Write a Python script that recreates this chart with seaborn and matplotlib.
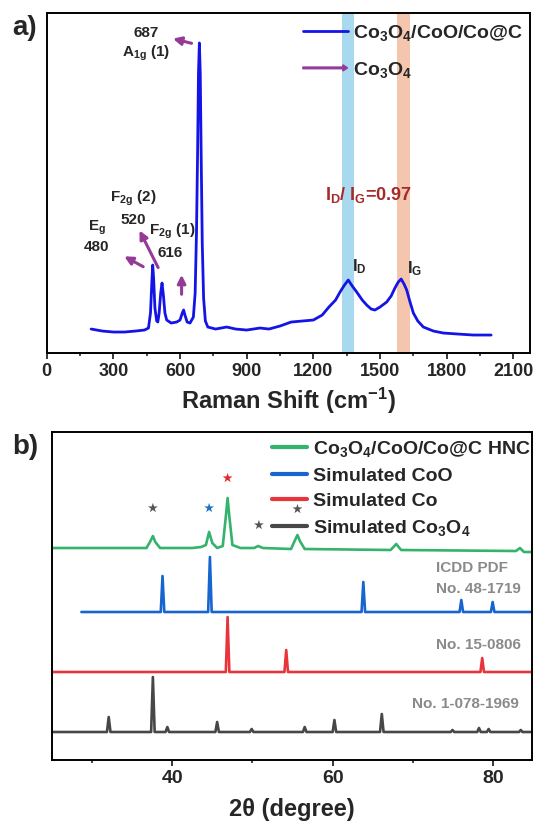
import numpy as np
import pandas as pd
import matplotlib
matplotlib.use('Agg')
import matplotlib.pyplot as plt
import matplotlib.patches as mpatches
from matplotlib.lines import Line2D
from matplotlib.legend_handler import HandlerPatch
from matplotlib.ticker import MultipleLocator
import seaborn as sns

# ---------------- data ----------------
# a) Raman spectrum, intensity in arbitrary units
raman_shift = [200, 250, 300, 350, 400, 440, 458, 467, 473, 477, 481, 487, 495, 500,
               506, 513, 519, 525, 532, 540, 560, 585, 600, 610, 616, 622, 632, 645,
               660, 668, 674, 679, 683, 687, 691, 695, 700, 706, 714, 725, 760, 810,
               850, 900, 960, 1000, 1050, 1100, 1150, 1200, 1240, 1270, 1300, 1320,
               1340, 1357, 1375, 1395, 1420, 1440, 1460, 1477, 1500, 1530, 1550, 1567,
               1582, 1595, 1608, 1620, 1635, 1650, 1670, 1695, 1740, 1785, 1850, 1920,
               1980, 2000]
raman_int = [24, 22, 21, 21, 22, 23, 25, 40, 70, 88, 75, 45, 32, 31,
             40, 60, 70, 58, 40, 33, 30, 31, 33, 40, 43, 38, 31, 30,
             36, 60, 120, 200, 280, 310, 280, 200, 110, 55, 32, 26, 24, 26,
             24, 23, 25, 24, 27, 31, 32, 33, 38, 46, 53, 61,
             68, 73, 67, 61, 53, 48, 44, 43, 46, 51, 57, 65,
             71, 74, 69, 63, 51, 40, 32, 26, 22, 20, 19, 18,
             18, 18]
d_band = (1330, 1383)
g_band = (1575, 1635)

# b) XRD patterns
hnc_theta = [25, 36.8, 37.3, 37.6, 37.9, 38.5, 42.5, 43.6, 43.9, 44.2, 44.6, 45.0,
             45.6, 46.3, 46.7, 46.9, 47.1, 47.5, 48.5, 50.2, 50.7, 51.3, 54.8, 55.3,
             55.6, 55.9, 56.5, 67.2, 67.9, 68.5, 82.8, 83.3, 83.8, 85]
hnc_int = [212, 212, 219, 224, 218, 212, 212, 213, 214, 215, 228, 217,
           212, 214, 245, 262, 245, 215, 212, 212, 214, 212, 211, 220,
           225, 219, 211, 210, 216, 210, 209, 212, 208, 208]

coo_start, coo_base = 28.7, 148
coo_pos = [38.8, 44.7, 63.8, 76.0, 79.9]
coo_top = [184, 203, 178, 160, 158]

co_start, co_base = 25, 88
co_pos = [46.9, 54.2, 78.6]
co_top = [143, 110, 102]

co3o4_start, co3o4_base = 25, 28
co3o4_pos = [32.1, 37.6, 39.4, 45.6, 49.9, 56.5, 60.2, 66.1, 74.9, 78.2, 79.4, 83.4]
co3o4_top = [43, 83, 33, 38, 31, 33, 40, 46, 30, 32, 31, 30]

star_x = [37.6, 44.6, 46.9, 50.8, 55.6]
star_y = [252, 252, 282, 235, 251]
star_colors = ['#555555', '#1f73c2', '#e3262b', '#555555', '#555555']


def stick_pattern(start, end, base, pos, top, hw=0.22):
    x, y = [start], [base]
    for p, t in zip(pos, top):
        x += [p - hw, p, p + hw]
        y += [base, t, base]
    x.append(end)
    y.append(base)
    return x, y


# ---------------- style ----------------
sns.set_style('ticks')
plt.rcParams['font.family'] = ['Liberation Sans', 'DejaVu Sans']
plt.rcParams['font.weight'] = 'bold'
plt.rcParams['axes.labelweight'] = 'bold'
plt.rcParams['mathtext.fontset'] = 'custom'
plt.rcParams['mathtext.rm'] = 'Liberation Sans:bold'
plt.rcParams['mathtext.it'] = 'Liberation Sans:bold'
plt.rcParams['mathtext.bf'] = 'Liberation Sans:bold'
plt.rcParams['mathtext.default'] = 'rm'

purple = '#953a97'
fig = plt.figure(figsize=(5.35, 8.26), dpi=100)
ax1 = fig.add_axes([0.0873, 0.5726, 0.9034, 0.4117])
ax2 = fig.add_axes([0.0966, 0.0799, 0.8978, 0.3971])

for ax, lsize in ((ax1, 13), (ax2, 14)):
    for s in ax.spines.values():
        s.set_linewidth(1.4)
        s.set_color('black')
    ax.set_yticks([])
    ax.tick_params(axis='x', which='major', length=4, width=1.3, labelsize=lsize,
                   direction='out', pad=3)
    ax.tick_params(axis='x', which='minor', length=2.5, width=1.2, direction='out')

# ---------------- a) Raman ----------------
ax1.axvspan(*d_band, color='#a9d9ef', lw=0, zorder=0)
ax1.axvspan(*g_band, color='#f4c6ae', lw=0, zorder=0)
sns.lineplot(x=raman_shift, y=raman_int, color='#1414e6', lw=2, sort=False,
             estimator=None, ax=ax1, label='Co$_3$O$_4$/CoO/Co@C')
ax1.set_xlim(0, 2175)
ax1.set_ylim(0, 340)
ax1.xaxis.set_major_locator(MultipleLocator(300))
ax1.xaxis.set_minor_locator(MultipleLocator(150))
ax1.set_xlabel('Raman Shift (cm$^{-1}$)', fontsize=17, labelpad=4)
ax1.set_ylabel('Intensity (a.u.)', fontsize=17, labelpad=8)

arrow_kw = dict(arrowstyle='-|>', color=purple, lw=2.2, mutation_scale=12)
ax1.annotate('', xy=(556, 315), xytext=(664, 309), arrowprops=arrow_kw)
ax1.annotate('', xy=(338, 98), xytext=(445, 85), arrowprops=arrow_kw)
ax1.annotate('', xy=(412, 125), xytext=(507, 83), arrowprops=arrow_kw)
ax1.annotate('', xy=(607, 81), xytext=(607, 56), arrowprops=arrow_kw)

lab_kw = dict(fontsize=11, fontweight='bold', ha='center', va='center')
ax1.text(447, 320, '687', **lab_kw)
ax1.text(447, 300, 'A$_{1g}$ (1)', **lab_kw)
ax1.text(390, 155, 'F$_{2g}$ (2)', **lab_kw)
ax1.text(390, 133, '520', **lab_kw)
ax1.text(225, 125, 'E$_g$', **lab_kw)
ax1.text(225, 106, '480', **lab_kw)
ax1.text(563, 122, 'F$_{2g}$ (1)', **lab_kw)
ax1.text(555, 100, '616', **lab_kw)
ax1.text(1447, 158, 'I$_D$/ I$_G$=0.97', fontsize=13, color='#a52a2a',
         ha='center', va='center')
ax1.text(1372, 86, 'I$_D$', fontsize=12, ha='left', va='center')
ax1.text(1620, 84, 'I$_G$', fontsize=12, ha='left', va='center')


def make_arrow(legend, orig_handle, xdescent, ydescent, width, height, fontsize):
    return mpatches.FancyArrow(0, height / 2, width, 0, length_includes_head=True,
                               width=1.2, head_width=0.45 * height,
                               head_length=0.35 * height, color=purple)


h1 = Line2D([], [], color='#1414e6', lw=2)
h2 = mpatches.Patch(color=purple)
ax1.legend([h1, h2], ['Co$_3$O$_4$/CoO/Co@C', 'Co$_3$O$_4$'],
           handler_map={mpatches.Patch: HandlerPatch(patch_func=make_arrow)},
           loc='upper left', bbox_to_anchor=(0.53, 0.97), frameon=False,
           fontsize=14, handlelength=2.3, handletextpad=0.3, labelspacing=0.85,
           borderpad=0, borderaxespad=0)

# ---------------- b) XRD ----------------
coo_x, coo_y = stick_pattern(coo_start, 85, coo_base, coo_pos, coo_top)
co_x, co_y = stick_pattern(co_start, 85, co_base, co_pos, co_top)
c34_x, c34_y = stick_pattern(co3o4_start, 85, co3o4_base, co3o4_pos, co3o4_top)

lw = 1.9
sns.lineplot(x=hnc_theta, y=hnc_int, color='#33b36b', lw=lw, sort=False,
             estimator=None, ax=ax2, label='Co$_3$O$_4$/CoO/Co@C HNC')
sns.lineplot(x=coo_x, y=coo_y, color='#1766d0', lw=lw, sort=False,
             estimator=None, ax=ax2, label='Simulated CoO')
sns.lineplot(x=co_x, y=co_y, color='#e8353b', lw=lw, sort=False,
             estimator=None, ax=ax2, label='Simulated Co')
sns.lineplot(x=c34_x, y=c34_y, color='#474747', lw=lw, sort=False,
             estimator=None, ax=ax2, label='Simulated Co$_3$O$_4$')
ax2.scatter(star_x, star_y, marker='*', c=star_colors, s=55, linewidths=0, zorder=5)

ax2.set_xlim(25, 84.8)
ax2.set_ylim(0, 328)
ax2.xaxis.set_major_locator(MultipleLocator(20))
ax2.xaxis.set_minor_locator(MultipleLocator(10))
ax2.set_xlabel('2θ (degree)', fontsize=17, labelpad=8)
ax2.set_ylabel('Intensity (a.u.)', fontsize=17, labelpad=10)

grey_kw = dict(fontsize=11, color='#8a8a8a', ha='left', va='center')
ax2.text(72.9, 192, 'ICDD PDF', **grey_kw)
ax2.text(72.9, 171, 'No. 48-1719', **grey_kw)
ax2.text(72.9, 115, 'No. 15-0806', **grey_kw)
ax2.text(69.9, 56, 'No. 1-078-1969', **grey_kw)

leg = ax2.legend(loc='upper left', bbox_to_anchor=(0.459, 0.978), frameon=False,
                 fontsize=14, handlelength=1.8, handletextpad=0.3,
                 labelspacing=0.4, borderpad=0, borderaxespad=0)
for line in leg.get_lines():
    line.set_linewidth(3)

fig.text(25 / 535, 1 - 28 / 826, 'a)', fontsize=20, fontweight='bold',
         ha='center', va='center')
fig.text(25 / 535, 1 - 447 / 826, 'b)', fontsize=20, fontweight='bold',
         ha='center', va='center')

fig.savefig('out.png', dpi=100)
